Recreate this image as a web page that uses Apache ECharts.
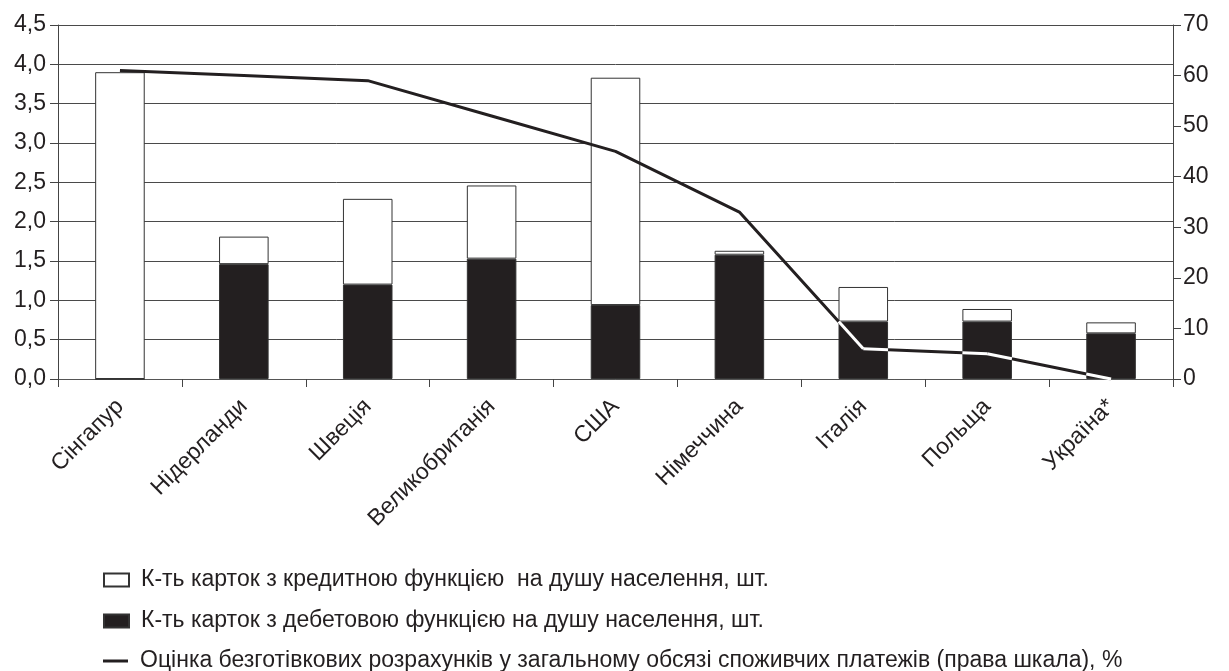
<!DOCTYPE html>
<html>
<head>
<meta charset="utf-8">
<script src="https://cdn.jsdelivr.net/npm/echarts@6/dist/echarts.min.js"></script>
<style>
  html, body { margin: 0; padding: 0; background: #fff; }
  #chart { width: 1229px; height: 671px; }
</style>
</head>
<body>
<div id="chart"></div>
<script>
// Countries on the category axis
const categories = ['Сінгапур', 'Нідерланди', 'Швеція', 'Великобританія', 'США', 'Німеччина', 'Італія', 'Польща', 'Україна*'];
// Cards with a debit function per capita, pcs (left scale)
const debitCards = [0, 1.46, 1.20, 1.53, 0.94, 1.58, 0.73, 0.73, 0.58];
// Cards with a credit function per capita, pcs (stacked on top of debit)
const creditCards = [3.90, 0.35, 1.09, 0.93, 2.89, 0.05, 0.44, 0.16, 0.14];
// Share of cashless payments in consumer payments, % (right scale)
const cashlessShare = [61, 60, 59, 52, 45, 33, 6, 5, 0];

const seriesNames = [
  'К-ть карток з кредитною функцією  на душу населення, шт.',
  'К-ть карток з дебетовою функцією на душу населення, шт.',
  'Оцінка безготівкових розрахунків у загальному обсязі споживчих платежів (права шкала), %'
];

const LEFT_MAX = 4.5, LEFT_STEP = 0.5;
const RIGHT_MAX = 70, RIGHT_STEP = 10;
const BAR_RATIO = 0.4;
const INK = '#231f20';
const FONT = 'Liberation Sans, Arial, sans-serif';
const TEXT_SIZE = 23;

// Clip segment p->q to rectangle r (Liang–Barsky); returns null when outside
function clipSegment(p, q, r) {
  let t0 = 0, t1 = 1;
  const dx = q[0] - p[0], dy = q[1] - p[1];
  const checks = [[-dx, p[0] - r.x0], [dx, r.x1 - p[0]], [-dy, p[1] - r.y0], [dy, r.y1 - p[1]]];
  for (const [pp, qq] of checks) {
    if (pp === 0) { if (qq < 0) return null; continue; }
    const t = qq / pp;
    if (pp < 0) { if (t > t1) return null; if (t > t0) t0 = t; }
    else { if (t < t0) return null; if (t < t1) t1 = t; }
  }
  if (t1 - t0 < 1e-6) return null;
  return [[p[0] + t0 * dx, p[1] + t0 * dy], [p[0] + t1 * dx, p[1] + t1 * dy]];
}

// The share line turns white where it crosses a black (debit) bar
function renderInvertedLine(params, api) {
  const i = api.value(0);
  const debit = api.value(1);
  if (!(debit > 0)) return null;
  const base = api.coord([i, 0]);
  const top = api.coord([i, debit]);
  const bw = api.size([1, 0])[0] * BAR_RATIO;
  const rect = { x0: base[0] - bw / 2, x1: base[0] + bw / 2, y0: top[1], y1: base[1] };
  const pt = j => api.coord([j, cashlessShare[j] * LEFT_MAX / RIGHT_MAX]);
  const children = [];
  [[i - 1, i], [i, i + 1]].forEach(([a, b]) => {
    if (a < 0 || b >= cashlessShare.length) return;
    const seg = clipSegment(pt(a), pt(b), rect);
    if (seg) {
      children.push({
        type: 'line',
        shape: { x1: seg[0][0], y1: seg[0][1], x2: seg[1][0], y2: seg[1][1] },
        style: { stroke: '#fff', lineWidth: 3, lineCap: 'butt' }
      });
    }
  });
  return { type: 'group', children };
}

// One legend block per row, stacked under the chart
const legendIcons = ['rect', 'rect', 'path://M0,0 M25,13 M0,5 L25,5 L25,8 L0,8 Z'];
const legendTops = [568, 609, 649];
const legends = seriesNames.map((name, k) => ({
  orient: 'vertical',
  left: 103,
  top: legendTops[k],
  padding: 0,
  itemWidth: 25,
  itemHeight: 13,
  selectedMode: false,
  textStyle: { fontFamily: FONT, fontSize: TEXT_SIZE, lineHeight: 24, color: INK, padding: [0, 0, 0, 7] },
  data: [{ name, icon: legendIcons[k] }]
}));

const chart = echarts.init(document.getElementById('chart'), null, { renderer: 'canvas' });

chart.setOption({
  backgroundColor: '#fff',
  animation: false,
  textStyle: { fontFamily: FONT, color: INK },
  grid: { left: 58, right: 56, top: 25, bottom: 292 },
  legend: legends,
  xAxis: {
    type: 'category',
    data: categories,
    boundaryGap: true,
    axisLine: { show: true, lineStyle: { color: '#555', width: 1 } },
    axisTick: { show: true, length: 8, inside: false, lineStyle: { color: '#444' } },
    axisLabel: { rotate: 45, margin: 24, fontSize: TEXT_SIZE, color: INK, fontFamily: FONT, interval: 0 }
  },
  yAxis: [
    {
      type: 'value',
      min: 0, max: LEFT_MAX, interval: LEFT_STEP,
      position: 'left',
      axisLine: { show: true, lineStyle: { color: '#444', width: 1 } },
      axisTick: { show: true, length: 8, lineStyle: { color: '#444' } },
      axisLabel: {
        fontSize: TEXT_SIZE, color: INK, fontFamily: FONT, margin: 12,
        formatter: v => v.toFixed(1).replace('.', ',')
      },
      splitLine: { show: true, lineStyle: { color: '#4a4a4a', width: 1 } }
    },
    {
      type: 'value',
      min: 0, max: RIGHT_MAX, interval: RIGHT_STEP,
      position: 'right',
      axisLine: { show: true, lineStyle: { color: '#444', width: 1 } },
      axisTick: { show: true, length: 8, lineStyle: { color: '#444' } },
      axisLabel: { fontSize: TEXT_SIZE, color: INK, fontFamily: FONT, margin: 10 },
      splitLine: { show: false }
    }
  ],
  series: [
    {
      name: seriesNames[1],
      type: 'bar',
      stack: 'cards',
      barWidth: (BAR_RATIO * 100) + '%',
      data: debitCards,
      itemStyle: { color: INK, borderColor: '#333', borderWidth: 1 },
      z: 2
    },
    {
      name: seriesNames[0],
      type: 'bar',
      stack: 'cards',
      barWidth: (BAR_RATIO * 100) + '%',
      data: creditCards,
      itemStyle: { color: '#fff', borderColor: '#333', borderWidth: 1 },
      z: 2
    },
    {
      name: seriesNames[2],
      type: 'line',
      yAxisIndex: 1,
      data: cashlessShare,
      symbol: 'none',
      lineStyle: { color: INK, width: 3 },
      itemStyle: { color: INK },
      z: 3
    },
    {
      type: 'custom',
      yAxisIndex: 0,
      renderItem: renderInvertedLine,
      data: debitCards.map((d, i) => [i, d]),
      silent: true,
      z: 4
    }
  ]
});
</script>
</body>
</html>
